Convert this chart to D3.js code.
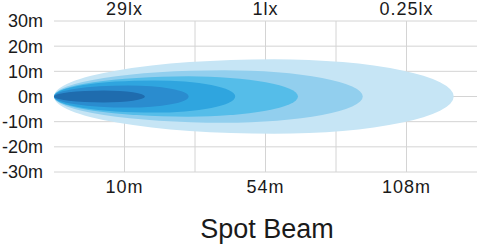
<!DOCTYPE html>
<html>
<head>
<meta charset="utf-8">
<script src="https://cdn.jsdelivr.net/npm/d3@7"></script>
<style>
  body { margin: 0; background: #fff; }
  text { font-family: 'Liberation Sans', Arial, sans-serif; fill: #1a1a1a; }
</style>
</head>
<body>
<div id="chart"></div>
<script>
// beam layers, outermost first (reach in grid columns, half width in metres)
var beamReach = [5.67, 4.38, 3.46, 2.57, 1.91, 1.29];
var beamHalfWidth = [14.8, 10.4, 8.0, 6.4, 4.4, 2.4];
var beamColors = ['#c6e5f5', '#92cfee', '#55bde9', '#2fa5df', '#2a8ccf', '#1f6cae'];

var yTicks = [30, 20, 10, 0, -10, -20, -30];
var gridCols = [1, 2, 3, 4, 5];
var distanceCols = [1, 3, 5];
var distanceLabels = ['10m', '54m', '108m'];
var luxLabels = ['29lx', '1lx', '0.25lx'];
var title = 'Spot Beam';

var width = 477, height = 245;

var svg = d3.select('#chart')
  .append('svg')
  .attr('width', width)
  .attr('height', height);

var x = d3.scaleLinear().domain([0, 6]).range([54, 477]);
var y = d3.scaleLinear().domain([-30, 30]).range([172, 21]);

// grid
svg.append('g')
  .selectAll('line')
  .data(yTicks)
  .enter()
  .append('line')
  .attr('x1', x(0))
  .attr('x2', x(6))
  .attr('y1', function (d) { return y(d); })
  .attr('y2', function (d) { return y(d); })
  .attr('stroke', '#d4d4d4')
  .attr('stroke-width', 1);

svg.append('g')
  .selectAll('line')
  .data(gridCols)
  .enter()
  .append('line')
  .attr('x1', function (d) { return x(d); })
  .attr('x2', function (d) { return x(d); })
  .attr('y1', y(30))
  .attr('y2', y(-30))
  .attr('stroke', '#d4d4d4')
  .attr('stroke-width', 1);

// beam shapes: egg shaped, tip on the left, widest a bit past halfway
var widest = 0.55;
function beamPath(reach, half) {
  var x0 = x(0), x1 = x(reach), xm = x(reach * widest);
  var y0 = y(0), yt = y(half), yb = y(-half);
  var ry = y0 - yt;
  var rl = xm - x0, rr = x1 - xm;
  return 'M' + x0 + ',' + y0 +
    'A' + rl + ',' + ry + ' 0 0 1 ' + xm + ',' + yt +
    'A' + rr + ',' + ry + ' 0 0 1 ' + x1 + ',' + y0 +
    'A' + rr + ',' + ry + ' 0 0 1 ' + xm + ',' + yb +
    'A' + rl + ',' + ry + ' 0 0 1 ' + x0 + ',' + y0 + 'Z';
}

svg.append('g')
  .selectAll('path')
  .data(beamReach)
  .enter()
  .append('path')
  .attr('d', function (d, i) { return beamPath(d, beamHalfWidth[i]); })
  .attr('fill', function (d, i) { return beamColors[i]; });

// y labels
svg.append('g')
  .selectAll('text')
  .data(yTicks)
  .enter()
  .append('text')
  .attr('x', 43)
  .attr('y', function (d) { return y(d); })
  .attr('dy', '0.36em')
  .attr('text-anchor', 'end')
  .style('font-size', '18px')
  .text(function (d) { return d + 'm'; });

// lux labels on top
svg.append('g')
  .selectAll('text')
  .data(distanceCols)
  .enter()
  .append('text')
  .attr('x', function (d) { return x(d); })
  .attr('y', 15)
  .attr('text-anchor', 'middle')
  .style('font-size', '18px')
  .style('letter-spacing', '1px')
  .text(function (d, i) { return luxLabels[i]; });

// distance labels below
svg.append('g')
  .selectAll('text')
  .data(distanceCols)
  .enter()
  .append('text')
  .attr('x', function (d) { return x(d); })
  .attr('y', 193)
  .attr('text-anchor', 'middle')
  .style('font-size', '18px')
  .style('letter-spacing', '1px')
  .text(function (d, i) { return distanceLabels[i]; });

svg.append('text')
  .attr('x', 267)
  .attr('y', 238)
  .attr('text-anchor', 'middle')
  .style('font-size', '27px')
  .text(title);
</script>
</body>
</html>
